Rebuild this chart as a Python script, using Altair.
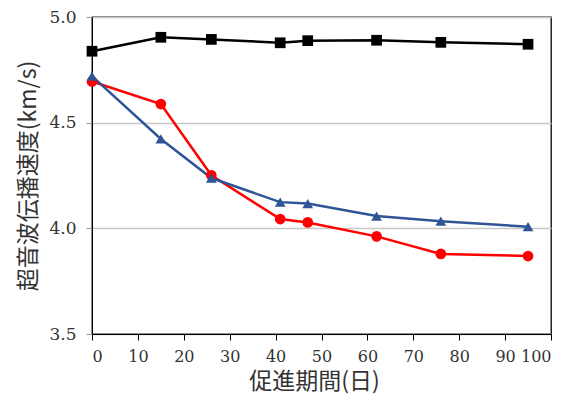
import altair as alt
import pandas as pd

days = [0, 15, 26, 41, 47, 62, 76, 95]
series_names = ["PC(ASRあり)", "PC(ASRなし)", "無筋"]
pc_asr = [4.695, 4.588, 4.251, 4.044, 4.028, 3.962, 3.879, 3.869]
pc_noasr = [4.838, 4.904, 4.894, 4.878, 4.888, 4.890, 4.880, 4.871]
plain = [4.720, 4.423, 4.238, 4.124, 4.117, 4.058, 4.034, 4.008]
colors = ["#FF0000", "#000000", "#2F5597"]
marker_shapes = ["circle", "square", "triangle-up"]

rows = []
for name, vals in zip(series_names, [pc_asr, pc_noasr, plain]):
    for d, v in zip(days, vals):
        rows.append({"day": d, "v": v, "series": name})
df = pd.DataFrame(rows)

FONT = "DejaVu Serif"
JFONT = "Noto Sans CJK JP"
TXT = "#333333"

x = alt.X("day:Q", scale=alt.Scale(domain=[0, 100], nice=False),
          axis=alt.Axis(values=list(range(0, 101, 10)), title="促進期間(日)",
                        grid=False, tickSize=6, tickColor="#000", domainColor="#000",
                        labelFontSize=16, labelFont=FONT, labelColor=TXT, labelPadding=8,
                        titleFontSize=23, titleFont=JFONT, titleFontWeight="normal",
                        titleColor=TXT, titlePadding=6, titleX=222))
y = alt.Y("v:Q", scale=alt.Scale(domain=[3.5, 5.0], nice=False, zero=False),
          axis=alt.Axis(values=[3.5, 4.0, 4.5, 5.0], format=".1f", title="超音波伝播速度(km/s)",
                        grid=True, gridColor="#c8c8c8", gridWidth=1.3, tickSize=6,
                        tickColor="#999", domainColor="#000",
                        labelFontSize=17, labelFont=FONT, labelColor=TXT, labelPadding=10,
                        titleFontSize=23, titleFont=JFONT, titleFontWeight="normal",
                        titleColor=TXT, titlePadding=8))
color_scale = alt.Scale(domain=series_names, range=colors)

leg = alt.Legend(title=None, orient="bottom-left", labelFontSize=20, symbolSize=110)

base = alt.Chart(df)
lines = base.mark_line(strokeWidth=2.5).encode(
    x=x, y=y, color=alt.Color("series:N", scale=color_scale, legend=None))

points = base.mark_point(filled=True, size=115, opacity=1).encode(
    x=x, y=y,
    color=alt.Color("series:N", scale=color_scale, legend=leg),
    shape=alt.Shape("series:N", scale=alt.Scale(domain=series_names, range=marker_shapes), legend=leg),
)

chart = alt.layer(lines, points).properties(
    width=459, height=317,
    autosize=alt.AutoSizeParams(type="none"),
    padding={"left": 84, "top": 9, "right": 18, "bottom": 66},
    background="white",
).configure_view(stroke="#000000", strokeWidth=1.3)

chart.save("out.html", embed_options={"renderer": "svg", "actions": False})
